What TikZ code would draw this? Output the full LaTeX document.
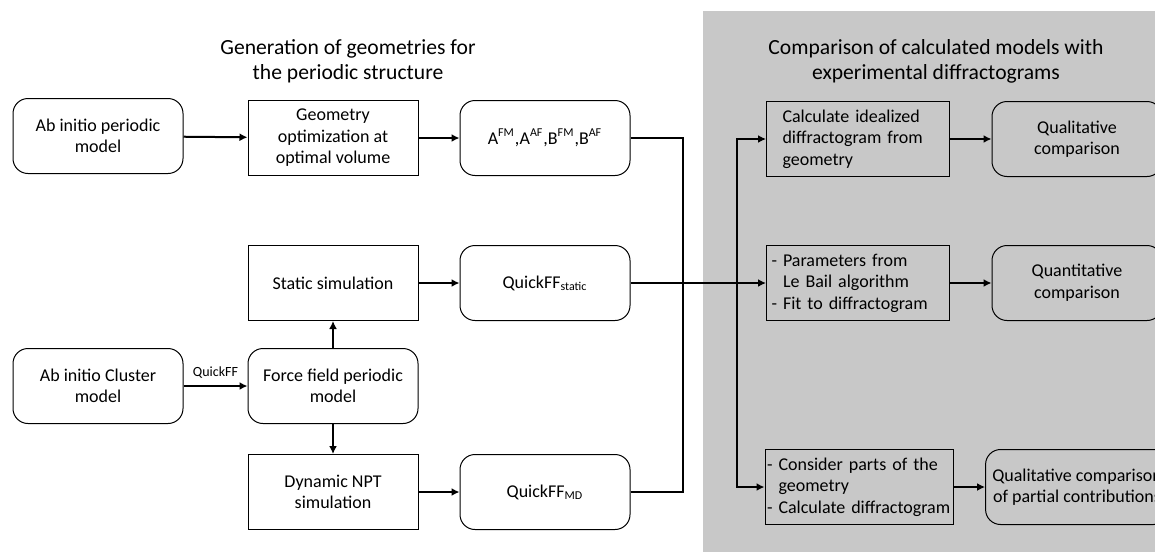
\documentclass[tikz,border=0pt]{standalone}
\usepackage{fontspec}
\setmainfont{Carlito}
\usetikzlibrary{arrows.meta}
\definecolor{panelgray}{RGB}{200,200,200}
\tikzset{
	blk/.style={draw, line width=.5pt, minimum width=85pt, minimum height=37.5pt, align=center, font=\fontsize{9}{10.8}\selectfont},
	rblk/.style={blk, rounded corners=7.5pt, fill=white},
	sblk/.style={blk, fill=white},
	lblk/.style={blk, minimum width=91.5pt, inner xsep=#1, text width=91.5pt-2*#1, align=left},
	wire/.style={line width=1pt},
	link/.style={wire, -{Latex[length=4pt,width=4pt]}},
	ttl/.style={align=center, font=\fontsize{10.8}{12.5}\selectfont}
}
\begin{document}
\begin{tikzpicture}[x=.5pt,y=-.5pt]
	\useasboundingbox (0,0) rectangle (1155,552);
	\fill[panelgray] (703,11) rectangle (1155,552);
	\node[ttl] (t1) at (348,61) {Generation of geometries for\\the periodic structure};
	\node[ttl] (t2) at (936,61) {Comparison of calculated models with\\experimental diffractograms};
	% left part
	\node[rblk] (ip) at (98,136) {Ab initio periodic\\model};
	\node[sblk] (geo) at (333,138) {Geometry\\optimization at\\optimal volume};
	\node[rblk] (afm) at (545,138) {A\textsuperscript{FM},A\textsuperscript{AF},B\textsuperscript{FM},B\textsuperscript{AF}};
	\node[sblk] (stat) at (333,283) {Static simulation};
	\node[rblk] (qs) at (545,283) {QuickFF\textsubscript{static}};
	\node[rblk] (cl) at (98,386) {Ab initio Cluster\\model};
	\node[rblk] (ff) at (333,386) {Force field periodic\\model};
	\node[sblk] (dyn) at (333,492) {Dynamic NPT\\simulation};
	\node[rblk] (qmd) at (545,492) {QuickFF\textsubscript{MD}};
	\draw[link] (ip) -- (geo);
	\draw[link] (geo) -- (afm);
	\draw[link] (stat) -- (qs);
	\draw[link] (cl) -- node[above, font=\fontsize{7}{8}\selectfont] (qlbl) {QuickFF} (ff);
	\draw[link] (ff) -- (stat);
	\draw[link] (ff) -- (dyn);
	\draw[link] (dyn) -- (qmd);
	% right part
	\node[lblk=8pt] (calc) at (858,139) {Calculate idealized\\diffractogram from\\geometry};
	\node[rblk, fill=none] (qual) at (1077,139) {Qualitative\\comparison};
	\node[lblk=2.5pt] (par) at (858,283) {- Parameters from\\\hphantom{-} Le Bail algorithm\\- Fit to diffractogram};
	\node[rblk, fill=none] (quant) at (1077,283) {Quantitative\\comparison};
	\node[lblk=1pt, text width=92pt] (cons) at (859,487) {- Consider parts of the\\\hphantom{-} geometry\\\mbox{- Calculate diffractogram}};
	\node[rblk, fill=none] (part) at (1077,487) {Qualitative comparison\\of partial contributions};
	\draw[link] (calc) -- (qual);
	\draw[link] (par) -- (quant);
	\draw[link] (cons) -- (part);
	% joining lines
	\coordinate (jl) at (683,283);
	\coordinate (jr) at (737,283);
	\draw[wire] (afm.east) -| (jl);
	\draw[wire] (qmd.east) -| (jl);
	\draw[wire] (qs.east) -- (jr);
	\draw[link] (jr) |- (calc.west);
	\draw[link] (jr) -- (par.west);
	\draw[link] (jr) |- (cons.west);
\end{tikzpicture}
\end{document}
